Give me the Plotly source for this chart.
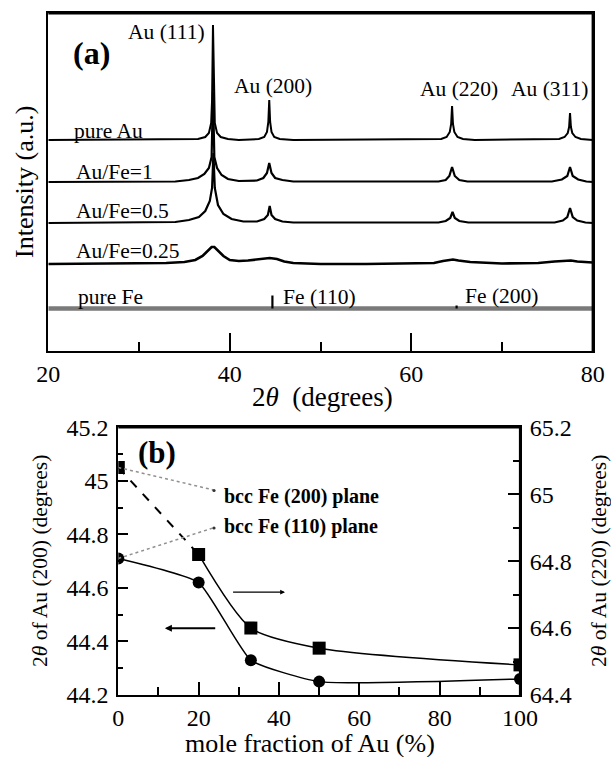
import plotly.graph_objects as go

W, H = 611, 757

# ---------------- Panel (a): XRD patterns ----------------
# 2theta (deg) and intensity above each trace's baseline (a.u.)
pureAu_x = [20, 36.5, 37.3, 37.7, 37.95, 38.05, 38.15, 38.25, 38.35, 38.6, 39.0, 39.8, 41,
            43.2, 43.8, 44.1, 44.25, 44.35, 44.45, 44.6, 44.9, 45.5, 47,
            63.3, 63.9, 64.25, 64.4, 64.5, 64.6, 64.75, 65.1, 65.7, 67,
            76.3, 76.9, 77.25, 77.4, 77.5, 77.6, 77.75, 78.1, 78.7, 80]
pureAu_y = [0, 1, 3, 7, 17, 40, 115, 40, 17, 7, 3, 1, 0,
            1, 3, 8, 18, 40, 18, 8, 3, 1, 0,
            1, 3, 8, 16, 34, 16, 8, 3, 1, 0,
            1, 3, 7, 13, 27, 13, 7, 3, 1, 0]

AuFe1_x = [20, 34, 35.5, 36.5, 37.2, 37.7, 38.0, 38.15, 38.3, 38.6, 39.1, 39.8, 41,
           43, 43.7, 44.1, 44.35, 44.6, 45, 45.8, 47,
           63, 63.8, 64.2, 64.5, 64.8, 65.3, 66.2,
           75.5, 76.6, 77.2, 77.5, 77.8, 78.4, 79.3, 80]
AuFe1_y = [0, 0.5, 2, 4, 8, 14, 25, 90, 25, 14, 7, 3, 1,
           1.5, 4, 9, 19, 9, 4, 2, 0.5,
           0.5, 2, 6, 15, 6, 2, 0.5,
           0.5, 2.5, 6, 15, 6, 2.5, 0.5, 0]

AuFe05_x = [20, 34, 35.5, 36.6, 37.3, 37.8, 38.05, 38.2, 38.35, 38.7, 39.3, 40.2, 41.5,
            43, 43.8, 44.2, 44.4, 44.6, 45.0, 45.8, 47,
            63, 63.8, 64.3, 64.55, 64.8, 65.3, 66.3,
            75.8, 76.7, 77.2, 77.5, 77.8, 78.3, 79.2, 80]
AuFe05_y = [0, 1, 3, 6, 12, 22, 35, 70, 35, 18, 9, 4, 1.5,
            1.5, 4, 8, 17, 8, 4, 1.5, 0.5,
            0.5, 2, 5, 11, 5, 2, 0.5,
            0.5, 2.5, 6, 15, 6, 2.5, 0.5, 0]

AuFe025_x = [20, 30, 33, 35, 36.2, 37.0, 37.6, 38.0, 38.3, 38.7, 39.3, 40.0, 41.0, 42.0,
             43.0, 43.7, 44.4, 45.2, 46.0, 47.0, 50, 55, 60, 62.5, 63.5, 64.2, 64.6, 65.2,
             66.5, 70, 74, 75.8, 77.0, 77.6, 78.3, 79.5, 80]
AuFe025_y = [0, 0.5, 1, 2, 4, 8, 13, 17, 17, 13, 8, 4, 3, 3.5,
             4.5, 5.5, 6, 5, 2.5, 1, 0, 0, 0.5, 1, 3, 4, 4.5, 3.5,
             2, 0.5, 1, 2.5, 3.5, 3.5, 2.5, 2, 1.5]

pureFe_x = [20, 80]
pureFe_y = [0, 0]
Fe_ref_pos = [44.7, 65.0]      # bcc Fe (110), (200)
Fe_ref_h = [13, 3]

# vertical offsets of the stacked patterns (a.u.)
offsets = {"pure Au": 211, "Au/Fe=1": 169, "Au/Fe=0.5": 128, "Au/Fe=0.25": 87, "pure Fe": 42.5}

# ---------------- Panel (b): peak positions ----------------
mole_frac = [0, 20, 33, 50, 100]
au200 = [44.71, 44.62, 44.33, 44.25, 44.26]   # left axis (circles)
au220 = [65.08, 64.82, 64.60, 64.54, 64.49]   # right axis (squares)

FONT = "Liberation Serif"

fig = go.Figure()

def shift(ys, off):
    return [v + off for v in ys]

series_a = [
    ("pure Au", pureAu_x, pureAu_y, 2.0),
    ("Au/Fe=1", AuFe1_x, AuFe1_y, 2.2),
    ("Au/Fe=0.5", AuFe05_x, AuFe05_y, 2.2),
    ("Au/Fe=0.25", AuFe025_x, AuFe025_y, 2.6),
]
for name, xs, ys, lw in series_a:
    fig.add_trace(go.Scatter(x=xs, y=shift(ys, offsets[name]), mode="lines",
                             line=dict(color="black", width=lw), xaxis="x", yaxis="y",
                             showlegend=False, name=name))

fig.add_trace(go.Scatter(x=pureFe_x, y=shift(pureFe_y, offsets["pure Fe"]), mode="lines",
                         line=dict(color="#7a7a7a", width=4.5), xaxis="x", yaxis="y",
                         showlegend=False, name="pure Fe"))
stick_x, stick_y = [], []
for p, h in zip(Fe_ref_pos, Fe_ref_h):
    stick_x += [p, p, None]
    stick_y += [offsets["pure Fe"], offsets["pure Fe"] + h, None]
fig.add_trace(go.Scatter(x=stick_x, y=stick_y, mode="lines",
                         line=dict(color="black", width=2.2), xaxis="x", yaxis="y",
                         showlegend=False))

# ---- panel (b) traces
fig.add_trace(go.Scatter(x=mole_frac, y=au200, mode="lines+markers",
                         line=dict(color="black", width=1.5, shape="spline", smoothing=0.45),
                         marker=dict(symbol="circle", size=12, color="black"),
                         xaxis="x2", yaxis="y2", showlegend=False))
fig.add_trace(go.Scatter(x=mole_frac[1:], y=au220[1:], mode="lines",
                         line=dict(color="black", width=1.5, shape="spline", smoothing=0.7),
                         xaxis="x2", yaxis="y3", showlegend=False))
fig.add_trace(go.Scatter(x=mole_frac[:2], y=au220[:2], mode="lines",
                         line=dict(color="black", width=2, dash="dash"),
                         xaxis="x2", yaxis="y3", showlegend=False))
fig.add_trace(go.Scatter(x=mole_frac, y=au220, mode="markers",
                         marker=dict(symbol="square", size=13, color="black"),
                         xaxis="x2", yaxis="y3", showlegend=False))

def dx(p):
    return p / W

def dy(p):
    return 1 - p / H

# panel frame edges in pixels
A_L, A_R, A_T, A_B = 48.3, 592.7, 13.3, 351.0
B_L, B_R, B_T, B_B = 118.3, 520.0, 427.3, 695.0

tickfont = dict(family=FONT, size=24, color="black")
axis_common = dict(showgrid=False, zeroline=False, showline=True, linecolor="black",
                   ticks="inside", tickcolor="black", tickfont=tickfont, automargin=False)

fig.update_layout(
    width=W, height=H, margin=dict(l=0, r=0, t=0, b=0, pad=0),
    paper_bgcolor="white", plot_bgcolor="white",
    font=dict(family=FONT, color="black"),
    xaxis=dict(axis_common, domain=[dx(A_L), dx(A_R)], range=[20, 80], dtick=20, tick0=20,
               ticklen=18, tickwidth=2, linewidth=2, mirror=True, anchor="y",
               minor=dict(dtick=10, ticklen=9, tickwidth=2, ticks="inside", tickcolor="black",
                          showgrid=False),
               ticklabelstandoff=0),
    yaxis=dict(showgrid=False, zeroline=False, showline=True, linecolor="black", linewidth=2,
               mirror=True, showticklabels=False, ticks="", domain=[dy(A_B), dy(A_T)],
               range=[0, 337.7], anchor="x", automargin=False),
    xaxis2=dict(axis_common, domain=[dx(B_L), dx(B_R)], range=[0, 100], dtick=20, tick0=0,
                ticklen=13, tickwidth=1.5, linewidth=2, mirror=True, anchor="y2",
                minor=dict(dtick=10, ticklen=8, tickwidth=1.5, ticks="inside", tickcolor="black",
                           showgrid=False),
                ticklabelstandoff=0),
    yaxis2=dict(axis_common, domain=[dy(B_B), dy(B_T)], range=[44.2, 45.2], dtick=0.2,
                tick0=44.2, ticklen=10, tickwidth=1.5, linewidth=2, anchor="x2",
                minor=dict(dtick=0.1, ticklen=5, tickwidth=1.5, ticks="inside", tickcolor="black",
                           showgrid=False),
                ticklabelstandoff=3),
    yaxis3=dict(axis_common, domain=[dy(B_B), dy(B_T)], range=[64.4, 65.2], dtick=0.2,
                tick0=64.4, ticklen=12, tickwidth=1.5, linewidth=2, anchor="x2",
                overlaying="y2", side="right",
                minor=dict(dtick=0.1, ticklen=7, tickwidth=1.5, ticks="inside", tickcolor="black",
                           showgrid=False),
                ticklabelstandoff=3),
)

ann = []

def txt(text, x, y, size=21.5, xanchor="center", yanchor="middle", angle=0, bold=False):
    t = f"<b>{text}</b>" if bold else text
    ann.append(dict(text=t, x=dx(x), y=dy(y), xref="paper", yref="paper", showarrow=False,
                    xanchor=xanchor, yanchor=yanchor, textangle=angle,
                    font=dict(family=FONT, size=size, color="black")))

# panel (a) texts
txt("(a)", 91, 53, size=32, bold=True)
txt("Au (111)", 166, 32)
txt("Au (200)", 273, 86)
txt("Au (220)", 459, 89)
txt("Au (311)", 549, 89)
txt("pure Au", 72, 131, xanchor="left")
txt("Au/Fe=1", 74, 172, xanchor="left")
txt("Au/Fe=0.5", 74, 211, xanchor="left")
txt("Au/Fe=0.25", 74, 251, xanchor="left")
txt("pure Fe", 76, 297, xanchor="left")
txt("Fe (110)", 281, 297, xanchor="left")
txt("Fe (200)", 463, 296, xanchor="left")
txt("Intensity (a.u.)", 25, 182, size=26, angle=-90)
txt("2<i>θ</i>\u00a0\u00a0(degrees)", 322, 397, size=27)

# panel (b) texts
txt("(b)", 157, 453, size=31, bold=True)
txt("bcc Fe (200) plane", 221.7, 496.7, size=20, xanchor="left", bold=True)
txt("bcc Fe (110) plane", 221.7, 526.7, size=20, xanchor="left", bold=True)
txt("2<i>θ</i> of Au (200) (degrees)", 40, 561, size=21.5, angle=-90)
txt("2<i>θ</i> of Au (220) (degrees)", 599, 561, size=21.5, angle=-90)
txt("mole fraction of Au (%)", 310, 743, size=26)

# direction arrows
ann.append(dict(x=41.5, y=44.584, ax=28.2, ay=44.584, xref="x2", yref="y2", axref="x2", ayref="y2",
                showarrow=True, arrowhead=2, arrowsize=0.8, arrowwidth=1.2, arrowcolor="black", text=""))
ann.append(dict(x=11.6, y=44.449, ax=24.5, ay=44.449, xref="x2", yref="y2", axref="x2", ayref="y2",
                showarrow=True, arrowhead=2, arrowsize=0.7, arrowwidth=2, arrowcolor="black", text=""))
fig.update_layout(annotations=ann)

# dotted leader lines to the bcc Fe labels, each ending in a small dot
fig.add_shape(type="line", xref="x2", yref="y3", x0=mole_frac[0], y0=au220[0], x1=23.6, y1=65.013,
              line=dict(color="#909090", width=1.5, dash="dot"))
fig.add_shape(type="line", xref="x2", yref="y2", x0=mole_frac[0], y0=au200[0], x1=23.6, y1=44.824,
              line=dict(color="#909090", width=1.5, dash="dot"))
for (cx, cy) in [(214, 490.5), (214, 528)]:
    fig.add_shape(type="circle", xref="paper", yref="paper",
                  x0=dx(cx - 1.6), x1=dx(cx + 1.6), y0=dy(cy + 1.6), y1=dy(cy - 1.6),
                  fillcolor="#333333", line=dict(width=0))

# frame edges (top / right) drawn in paper coordinates
frame = dict(color="black", width=2.2)
for (x0, y0, x1, y1) in [(A_L, A_T, A_R, A_T), (A_R, A_T, A_R, A_B),
                         (B_L, B_T, B_R, B_T), (B_R, B_T, B_R, B_B)]:
    fig.add_shape(type="line", xref="paper", yref="paper",
                  x0=dx(x0), y0=dy(y0), x1=dx(x1), y1=dy(y1), line=frame, layer="above")

fig.write_html("out.html", config={"displayModeBar": False},
               post_script="document.body.style.margin='0';document.body.style.overflow='hidden';")
